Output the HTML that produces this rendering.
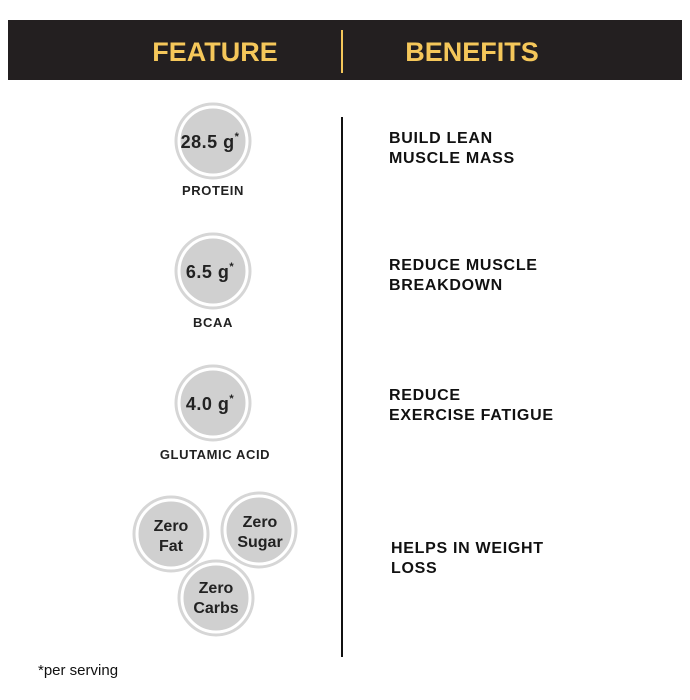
<!DOCTYPE html>
<html><head><style>body{margin:0;background:#fff}svg{display:block}</style></head>
<body>
<svg width="690" height="700" xmlns="http://www.w3.org/2000/svg" font-family="Liberation Sans, sans-serif" font-weight="bold">
<rect x="8" y="20" width="674" height="60" fill="#231f20"/>
<line x1="342" y1="30" x2="342" y2="73" stroke="#f5c75a" stroke-width="2"/>
<text x="215" y="61" text-anchor="middle" fill="#f5c75a" font-size="27">FEATURE</text>
<text x="472" y="61" text-anchor="middle" fill="#f5c75a" font-size="27">BENEFITS</text>
<line x1="342" y1="117" x2="342" y2="657" stroke="#111" stroke-width="2"/>
<g fill="#d0d0d0" stroke="#d6d6d6" stroke-width="3">
<circle cx="213" cy="141" r="37"/>
<circle cx="213" cy="271" r="37"/>
<circle cx="213" cy="403" r="37"/>
<circle cx="171" cy="534" r="37"/>
<circle cx="259" cy="530" r="37"/>
<circle cx="216" cy="598" r="37"/>
</g>
<g fill="none" stroke="#fff" stroke-width="3">
<circle cx="213" cy="141" r="34"/>
<circle cx="213" cy="271" r="34"/>
<circle cx="213" cy="403" r="34"/>
<circle cx="171" cy="534" r="34"/>
<circle cx="259" cy="530" r="34"/>
<circle cx="216" cy="598" r="34"/>
</g>
<g fill="#222" text-anchor="middle">
<text x="210" y="148" font-size="18" letter-spacing="0.5">28.5 g<tspan font-size="11" dy="-8">*</tspan></text>
<text x="210" y="278" font-size="18" letter-spacing="0.5">6.5 g<tspan font-size="11" dy="-8">*</tspan></text>
<text x="210" y="410" font-size="18" letter-spacing="0.5">4.0 g<tspan font-size="11" dy="-8">*</tspan></text>
<text x="213" y="195" font-size="13" letter-spacing="0.6">PROTEIN</text>
<text x="213" y="327" font-size="13" letter-spacing="0.6">BCAA</text>
<text x="215" y="459" font-size="13" letter-spacing="0.6">GLUTAMIC ACID</text>
<text x="171" y="531" font-size="16">Zero</text>
<text x="171" y="551" font-size="16">Fat</text>
<text x="260" y="527" font-size="16">Zero</text>
<text x="260" y="547" font-size="16">Sugar</text>
<text x="216" y="593" font-size="16">Zero</text>
<text x="216" y="613" font-size="16">Carbs</text>
</g>
<g fill="#111" font-size="16" letter-spacing="0.7">
<text x="389" y="143">BUILD LEAN</text>
<text x="389" y="163">MUSCLE MASS</text>
<text x="389" y="270">REDUCE MUSCLE</text>
<text x="389" y="290">BREAKDOWN</text>
<text x="389" y="400">REDUCE</text>
<text x="389" y="420">EXERCISE FATIGUE</text>
<text x="391" y="553">HELPS IN WEIGHT</text>
<text x="391" y="573">LOSS</text>
</g>
<text x="38" y="675" font-size="15" font-weight="normal" fill="#111">*per serving</text>
</svg>
</body></html>
